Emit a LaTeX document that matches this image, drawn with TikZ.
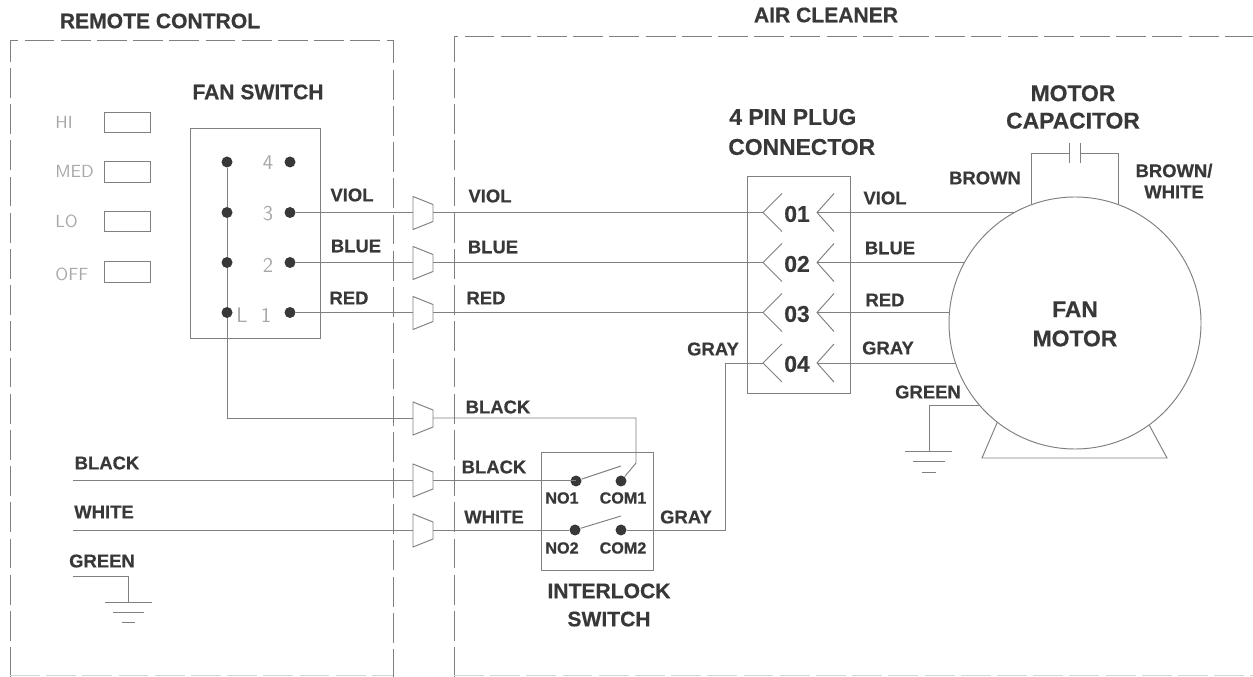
\documentclass[tikz,border=0pt]{standalone}
\usepackage{fontspec}
\setmainfont[BoldFeatures={FakeBold=0.5}]{Liberation Sans}
\usepackage{tikz}
\definecolor{inkline}{gray}{0.50}
\definecolor{inktext}{gray}{0.22}
\definecolor{inkfaint}{gray}{0.66}
\tikzset{
    wire/.style={draw=inkline, line width=0.55pt},
    border/.style={draw=inkline, line width=0.55pt, dash pattern=on 17pt off 3.6pt},
    tag/.style={text=inktext, font=\bfseries\fontsize{10.5}{12}\selectfont, inner sep=0pt},
    pintag/.style={text=inktext, font=\bfseries\fontsize{9.2}{11}\selectfont, inner sep=0pt},
    title/.style={text=inktext, font=\bfseries\fontsize{12}{15}\selectfont, align=center, inner sep=0pt},
    bigtitle/.style={text=inktext, font=\bfseries\fontsize{13}{15.6}\selectfont, align=center, inner sep=0pt},
    faint/.style={text=inkfaint, font=\sffamily\fontsize{10}{12}\selectfont, inner sep=0pt},
    faintnum/.style={text=inkfaint, font=\sffamily\fontsize{12}{14}\selectfont, inner sep=0pt},
    dot/.style={circle, fill=inktext, inner sep=0pt, minimum size=2.2mm},
}
\begin{document}
\begin{tikzpicture}[x=0.2mm, y=-0.2mm]
        \useasboundingbox (0,0) rectangle (1253,677);

        % connector halves, one row each
        \coordinate(t1) at (413, 212.5);
        \coordinate(t2) at (413, 262.5);
        \coordinate(t3) at (413, 312.5);
        \coordinate(t4) at (413, 418);
        \coordinate(t5) at (413, 480);
        \coordinate(t6) at (413, 530);
        \coordinate(t1r) at (433, 212.5);
        \coordinate(t2r) at (433, 262.5);
        \coordinate(t3r) at (433, 312.5);
        \coordinate(t4r) at (433, 418);
        \coordinate(t5r) at (433, 480);
        \coordinate(t6r) at (433, 530);

        % plug pins
        \coordinate(p1) at (763, 212.5);
        \coordinate(p2) at (763, 262.5);
        \coordinate(p3) at (763, 312.5);
        \coordinate(p4) at (763, 363);
        \coordinate(r1) at (817, 212.5);
        \coordinate(r2) at (817, 262.5);
        \coordinate(r3) at (817, 312.5);
        \coordinate(r4) at (817, 363);

        % free ends and corners
        \coordinate(blackin) at (73, 480);
        \coordinate(whitein) at (73, 530);
        \coordinate(greenin) at (73, 576);
        \coordinate(gnda) at (128, 602);
        \coordinate(gndb) at (929, 451);
        \coordinate(capl) at (1069, 153);
        \coordinate(capr) at (1080, 153);
        \coordinate(arm1) at (621, 466);
        \coordinate(arm2) at (621, 516);
        \coordinate(bend) at (636, 463);

        % outer boxes
        \draw[border] (10, 677) -- (10, 40) -- (393, 40) -- (393, 677);
        \draw[border] (454, 677) -- (454, 36) -- (1253, 36);
        \draw[draw=inkfaint!50, line width=0.5pt, dash pattern=on 17pt off 3.6pt] (10, 675) -- (393, 675);
        \draw[draw=inkfaint!50, line width=0.5pt, dash pattern=on 17pt off 3.6pt] (454, 675) -- (1253, 675);

        % selector buttons
        \draw[wire] (104, 112) rectangle (150, 132);
        \draw[wire] (104, 161) rectangle (150, 182);
        \draw[wire] (104, 211) rectangle (150, 231);
        \draw[wire] (104, 261) rectangle (150, 282);
        \node[faint, anchor=west] (hi) at (55, 122) {HI};
        \node[faint, anchor=west] (med) at (55, 171) {MED};
        \node[faint, anchor=west] (lo) at (55, 221) {LO};
        \node[faint, anchor=west] (off) at (55, 274) {OFF};

        % fan switch
        \node[draw=inkline, line width=0.55pt, minimum width=26mm, minimum height=42mm] (fanbox) at (255, 233) {};
        \node[dot] (sl4) at (227, 162) {};
        \node[dot] (sl3) at (227, 212.5) {};
        \node[dot] (sl2) at (227, 262.5) {};
        \node[dot] (sl1) at (227, 312.5) {};
        \node[dot] (sr4) at (290, 162) {};
        \node[dot] (sr3) at (290, 212.5) {};
        \node[dot] (sr2) at (290, 262.5) {};
        \node[dot] (sr1) at (290, 312.5) {};
        \node[faintnum] (n4) at (268, 163) {4};
        \node[faintnum] (n3) at (268, 214) {3};
        \node[faintnum] (n2) at (268, 265) {2};
        \node[faintnum] (n1) at (266, 315) {1};
        \node[faintnum] (nl) at (242, 315) {L};

        % interlock switch
        \node[draw=inkline, line width=0.55pt, minimum width=22.4mm, minimum height=23.6mm] (lockbox) at (597, 511) {};
        \node[dot] (no1) at (576, 481) {};
        \node[dot] (com1) at (621, 481) {};
        \node[dot] (no2) at (575, 530) {};
        \node[dot] (com2) at (621, 530) {};

        % plug box and motor
        \node[draw=inkline, line width=0.55pt, minimum width=20.6mm, minimum height=43.4mm] (plugbox) at (798.5, 284.5) {};
        \node[draw=inkline, line width=0.55pt, circle, inner sep=0pt, minimum size=50.4mm] (motor) at (1075, 323) {};

        % connector halves
        \draw[wire] (t1) -- ++(0,-16) -- ++(20,8) -- ++(0,17) -- ++(-20,8) -- cycle;
        \draw[wire] (t2) -- ++(0,-16) -- ++(20,8) -- ++(0,17) -- ++(-20,8) -- cycle;
        \draw[wire] (t3) -- ++(0,-16) -- ++(20,8) -- ++(0,17) -- ++(-20,8) -- cycle;
        \draw[wire] (t4) -- ++(0,-16) -- ++(20,8) -- ++(0,17) -- ++(-20,8) -- cycle;
        \draw[wire] (t5) -- ++(0,-16) -- ++(20,8) -- ++(0,17) -- ++(-20,8) -- cycle;
        \draw[wire] (t6) -- ++(0,-16) -- ++(20,8) -- ++(0,17) -- ++(-20,8) -- cycle;

        % pin chevrons
        \draw[wire] (p1) ++(19,-19) -- (p1) -- ++(19,19);
        \draw[wire] (p2) ++(19,-19) -- (p2) -- ++(19,19);
        \draw[wire] (p3) ++(19,-19) -- (p3) -- ++(19,19);
        \draw[wire] (p4) ++(19,-19) -- (p4) -- ++(19,19);
        \draw[wire] (r1) ++(17,-19) -- (r1) -- ++(17,19);
        \draw[wire] (r2) ++(17,-19) -- (r2) -- ++(17,19);
        \draw[wire] (r3) ++(17,-19) -- (r3) -- ++(17,19);
        \draw[wire] (r4) ++(17,-19) -- (r4) -- ++(17,19);

        % wires
        \draw[wire] (sl4) -- (sl3);
        \draw[wire] (sl3) -- (sl2);
        \draw[wire] (sl2) -- (sl1);
        \draw[wire] (sl1) |- (t4);
        \draw[wire] (sr3) -- (t1);
        \draw[wire] (sr2) -- (t2);
        \draw[wire] (sr1) -- (t3);
        \draw[wire] (t1r) -- (p1);
        \draw[wire] (t2r) -- (p2);
        \draw[wire] (t3r) -- (p3);
        \draw[wire] (r1) -- (r1 -| motor.119.2);
        \draw[wire] (r2) -- (r2 -| motor.151.6);
        \draw[wire] (r3) -- (r3 -| motor.175.4);
        \draw[wire] (r4) -- (r4 -| motor.198.5);
        \draw[wire] (t4r) -| (bend) -- (com1);
        \draw[wire] (blackin) -- (t5);
        \draw[wire] (whitein) -- (t6);
        \draw[wire] (t5r) -- (t5r -| no1);
        \draw[wire] (t6r) -- (no2);
        \draw[wire] (no1) -- (arm1);
        \draw[wire] (no2) -- (arm2);
        \draw[wire] (com2) -| (725, 363) -- (p4);
        \draw[wire] (greenin) -| (gnda);
        \draw[wire] (motor.221.8) -| (gndb);

        % capacitor
        \draw[wire] (motor.110.4) |- (capl);
        \draw[wire] (motor.70) |- (capr);
        \draw[wire] (capl) ++(0,-10) -- ++(0,20);
        \draw[wire] (capr) ++(0,-10) -- ++(0,20);

        % motor feet
        \draw[wire] (motor.232.8) -- (982, 458) -- (1167, 458) -- (motor.306.9);

        % grounds
        \draw[wire] (gnda) ++(-23,0) -- ++(47,0);
        \draw[wire] (gnda) ++(-15,10) -- ++(31,0);
        \draw[wire] (gnda) ++(-6,20) -- ++(13,0);
        \draw[wire] (gndb) ++(-24,0) -- ++(47,0);
        \draw[wire] (gndb) ++(-16,10) -- ++(32,0);
        \draw[wire] (gndb) ++(-7,21) -- ++(14,0);

        % titles
        \node[title] (remotelabel) at (160, 21) {REMOTE CONTROL};
        \node[title] (cleanerlabel) at (826, 15) {AIR CLEANER};
        \node[title] (fanlabel) at (258, 92) {FAN SWITCH};
        \node[bigtitle, anchor=west] (plugtop) at (729, 117) {4 PIN PLUG};
        \node[bigtitle, anchor=west] (plugbottom) at (728, 147) {CONNECTOR};
        \node[bigtitle] (caplabel) at (1073, 107) {MOTOR\\[0pt]CAPACITOR};
        \node[bigtitle] (motorlabel) at (1075, 324) {FAN\\[1pt]MOTOR};
        \node[title] (locklabel) at (609, 605) {INTERLOCK\\[1pt]SWITCH};

        % wire colours
        \node[tag] (viola) at (352, 195) {VIOL};
        \node[tag] (bluea) at (356, 246) {BLUE};
        \node[tag] (reda) at (349, 298) {RED};
        \node[tag] (violb) at (490, 196) {VIOL};
        \node[tag] (blueb) at (493, 247) {BLUE};
        \node[tag] (redb) at (486, 298) {RED};
        \node[tag] (violc) at (885, 198) {VIOL};
        \node[tag] (bluec) at (890, 248) {BLUE};
        \node[tag] (redc) at (885, 300) {RED};
        \node[tag] (grayc) at (888, 348) {GRAY};
        \node[tag] (grayb) at (713, 349) {GRAY};
        \node[tag] (graya) at (686, 517) {GRAY};
        \node[tag] (greenc) at (928, 392) {GREEN};
        \node[tag] (blacka) at (498, 407) {BLACK};
        \node[tag] (blackb) at (494, 467) {BLACK};
        \node[tag] (whiteb) at (494, 517) {WHITE};
        \node[tag] (blackc) at (107, 463) {BLACK};
        \node[tag] (whitec) at (104, 512) {WHITE};
        \node[tag] (greena) at (102, 561) {GREEN};
        \node[tag] (brown) at (985, 178) {BROWN};
        \node[tag, align=center] (brownwhite) at (1174, 181) {BROWN/\\[0pt]WHITE};

        % pin names
        \node[bigtitle] (pin1) at (797, 214) {01};
        \node[bigtitle] (pin2) at (797, 264) {02};
        \node[bigtitle] (pin3) at (797, 314) {03};
        \node[bigtitle] (pin4) at (797, 364) {04};
        \node[pintag] (no1label) at (562, 498) {NO1};
        \node[pintag] (com1label) at (623, 498) {COM1};
        \node[pintag] (no2label) at (562, 548) {NO2};
        \node[pintag] (com2label) at (623, 548) {COM2};
    \end{tikzpicture}
\end{document}
